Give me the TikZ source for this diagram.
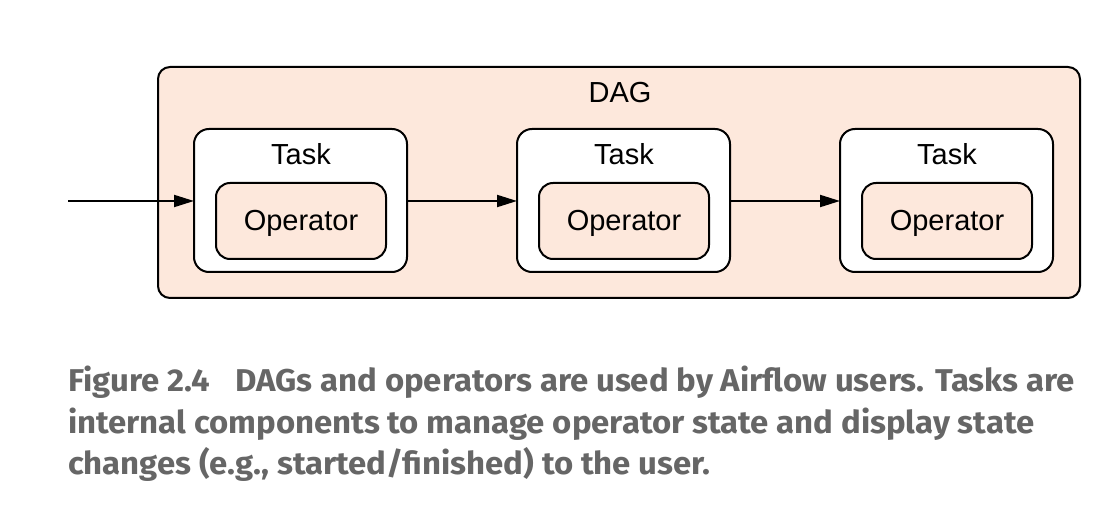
\documentclass[tikz,border=0pt]{standalone}
\usepackage{fontspec}
\setmainfont{Liberation Sans}
\newfontfamily\capfont[FakeStretch=1.045]{Fira Sans}
\usetikzlibrary{arrows.meta}
\definecolor{peach}{HTML}{FDE8DC}
\definecolor{capgray}{HTML}{666666}
\tikzset{
  x=1pt, y=-1pt,
  dagbox/.style={draw=black, line width=2pt, fill=peach, rounded corners=12pt},
  taskbox/.style={draw=black, line width=2pt, fill=white, rounded corners=15pt},
  opbox/.style={draw=black, line width=2pt, fill=peach, rounded corners=14pt},
  lbl/.style={font=\fontsize{29}{33}\selectfont, inner sep=0pt, anchor=base},
  flow/.style={line width=2pt, -{Triangle[length=20pt,width=12pt]}},
}
\begin{document}
\begin{tikzpicture}
\useasboundingbox[fill=white] (0,0) rectangle (1112,529);
% DAG
\draw[dagbox] (158,67) rectangle (1080,298);
\node[lbl] (dag) at (620,103) {DAG};
% tasks
\foreach \i/\x in {1/194,2/517,3/840}{
  \draw[taskbox] (\x,129) rectangle ++(213,143);
  \coordinate (tw\i) at (\x,201);
  \coordinate (te\i) at (\x+213,201);
  \node[lbl] (task\i) at (\x+107,165) {Task};
  \draw[opbox] (\x+22,183) rectangle ++(170,76);
  \node[lbl] (op\i) at (\x+107,231) {Operator};
}
\coordinate (in) at (68,201);
\draw[flow] (in) -- (tw1);
\draw[flow] (te1) -- (tw2);
\draw[flow] (te2) -- (tw3);
% caption
\node[anchor=base west, inner sep=0pt, align=left, text=capgray,
      font=\capfont\bfseries\fontsize{31.5}{41.5}\selectfont] (cap) at (68,475)
  {Figure 2.4\hspace{0.8em}DAGs and operators are used by Airflow users. Tasks are\\
   internal components to manage operator state and display state\\
   changes (e.g., started/finished) to the user.};
\end{tikzpicture}
\end{document}
